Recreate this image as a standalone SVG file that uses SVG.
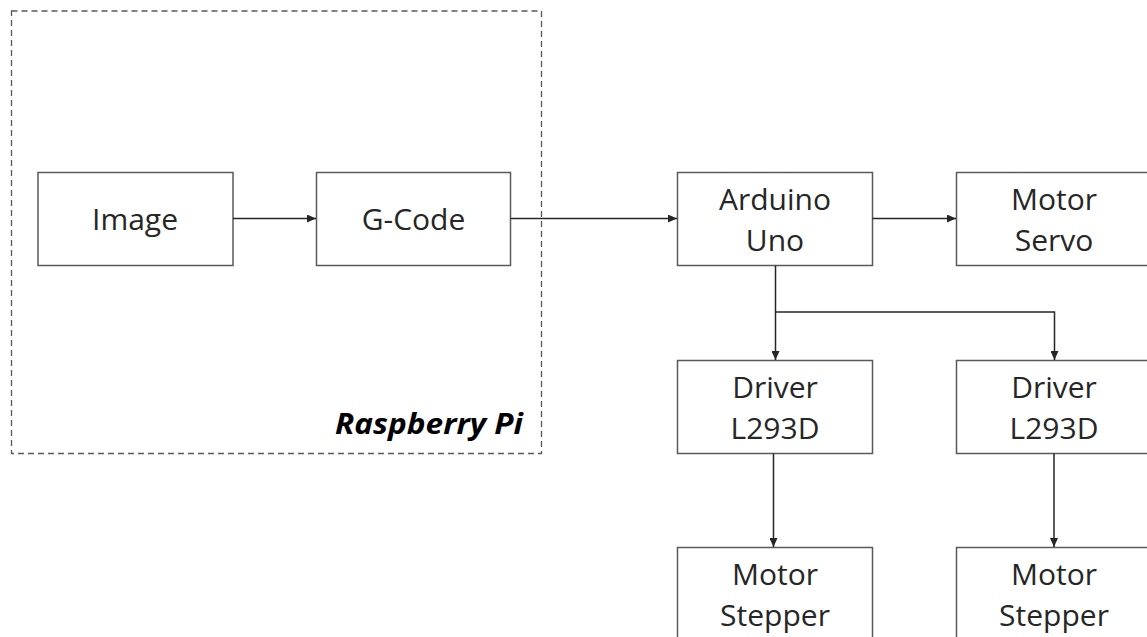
<svg xmlns="http://www.w3.org/2000/svg" width="1147" height="637" viewBox="0 0 1147 637">
<style>
.box{fill:#fff;stroke:#595959;stroke-width:1.5}
.lbl{font-family:"Open Sans","Noto Sans",sans-serif;font-size:30px;fill:#262626;text-anchor:middle}
.con{fill:none;stroke:#262626;stroke-width:1.5}
</style>
<defs>
<marker id="ah" markerWidth="10" markerHeight="8" refX="9" refY="4" orient="auto" markerUnits="userSpaceOnUse">
<path d="M0,0 L9,4 L0,8 Z" fill="#262626"/>
</marker>
</defs>
<rect width="1147" height="637" fill="#fff"/>
<g id="raspberry">
<rect x="11.5" y="11" width="530" height="442.5" fill="none" stroke="#595959" stroke-width="1.3" stroke-dasharray="6,4"/>
<text x="335" y="434" font-family="'Open Sans','Noto Sans',sans-serif" font-size="28" font-weight="bold" font-style="italic" fill="#000" textLength="188" lengthAdjust="spacingAndGlyphs">Raspberry Pi</text>
</g>
<g id="image"><rect class="box" x="38" y="172.5" width="195" height="93"/><text class="lbl" x="135" y="229.5">Image</text></g>
<g id="gcode"><rect class="box" x="316.5" y="172.5" width="194" height="93"/><text class="lbl" x="413.5" y="229.5">G-Code</text></g>
<g id="arduino"><rect class="box" x="677.5" y="172.5" width="195" height="93"/><text class="lbl" x="775" y="209.5">Arduino</text><text class="lbl" x="775" y="251">Uno</text></g>
<g id="servo"><rect class="box" x="956.5" y="172.5" width="195" height="93"/><text class="lbl" x="1054" y="209.5">Motor</text><text class="lbl" x="1054" y="251">Servo</text></g>
<g id="driver1"><rect class="box" x="677.5" y="360.5" width="195" height="93"/><text class="lbl" x="775" y="397.5">Driver</text><text class="lbl" x="775" y="439">L293D</text></g>
<g id="driver2"><rect class="box" x="956.5" y="360.5" width="195" height="93"/><text class="lbl" x="1054" y="397.5">Driver</text><text class="lbl" x="1054" y="439">L293D</text></g>
<g id="stepper1"><rect class="box" x="677.5" y="547.5" width="195" height="93"/><text class="lbl" x="775" y="584.5">Motor</text><text class="lbl" x="775" y="626">Stepper</text></g>
<g id="stepper2"><rect class="box" x="956.5" y="547.5" width="195" height="93"/><text class="lbl" x="1054" y="584.5">Motor</text><text class="lbl" x="1054" y="626">Stepper</text></g>
<g id="connectors">
<path class="con" d="M233,218.5 H316" marker-end="url(#ah)"/>
<path class="con" d="M510.5,218.5 H677" marker-end="url(#ah)"/>
<path class="con" d="M872.5,218.5 H956" marker-end="url(#ah)"/>
<path class="con" d="M775.5,265.5 V360" marker-end="url(#ah)"/>
<path class="con" d="M775.5,312 H1054.5 V360" marker-end="url(#ah)"/>
<path class="con" d="M773.5,453.5 V547" marker-end="url(#ah)"/>
<path class="con" d="M1054,453.5 V547" marker-end="url(#ah)"/>
</g>
</svg>
